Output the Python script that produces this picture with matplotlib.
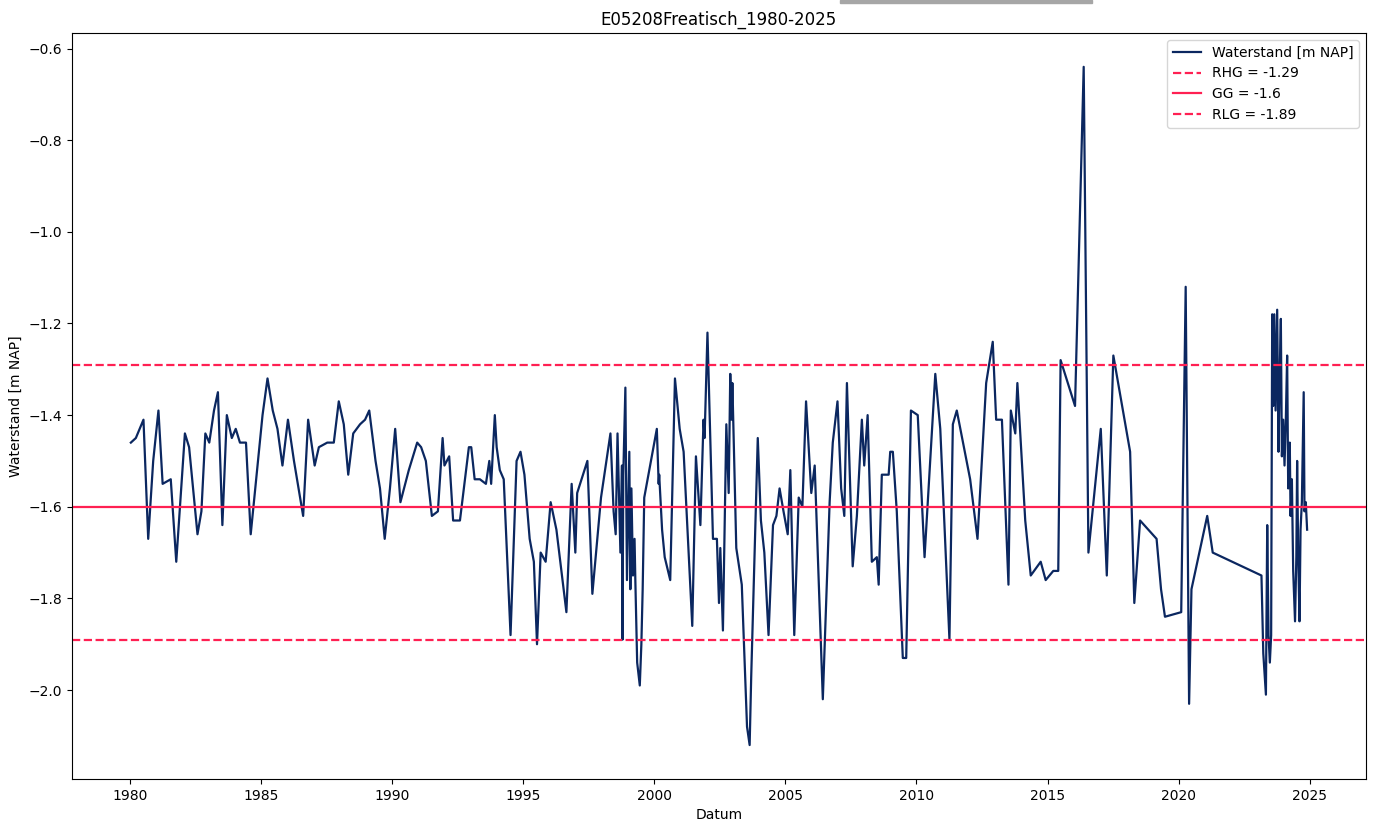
import datetime as dt
import matplotlib
matplotlib.use("Agg")
import matplotlib.pyplot as plt
from matplotlib.patches import Rectangle

# meetreeks E05208 (decimale jaren, waterstand in m NAP)
jaren = [
    1980.04, 1980.23, 1980.52, 1980.70, 1980.89, 1981.09, 1981.25, 1981.56, 1981.77, 1982.10,
    1982.26, 1982.58, 1982.73, 1982.88, 1983.03, 1983.21, 1983.36, 1983.53, 1983.70, 1983.89,
    1984.04, 1984.20, 1984.43, 1984.61, 1984.87, 1985.06, 1985.25, 1985.45, 1985.63, 1985.82,
    1986.03, 1986.26, 1986.61, 1986.80, 1987.05, 1987.21, 1987.53, 1987.78, 1987.97, 1988.16,
    1988.33, 1988.52, 1988.78, 1988.97, 1989.13, 1989.37, 1989.54, 1989.72, 1989.92, 1990.12,
    1990.32, 1990.64, 1990.96, 1991.11, 1991.29, 1991.52, 1991.75, 1991.93, 1992.00, 1992.18,
    1992.33, 1992.59, 1992.93, 1993.02, 1993.15, 1993.35, 1993.58, 1993.71, 1993.78, 1993.92,
    1993.99, 1994.11, 1994.26, 1994.52, 1994.75, 1994.90, 1995.05, 1995.25, 1995.41, 1995.53,
    1995.67, 1995.86, 1996.05, 1996.27, 1996.65, 1996.85, 1996.99, 1997.06, 1997.45, 1997.64,
    1997.97, 1998.33, 1998.45, 1998.53, 1998.60, 1998.71, 1998.77, 1998.79, 1998.82, 1998.90,
    1998.96, 1999.05, 1999.09, 1999.13, 1999.19, 1999.25, 1999.28, 1999.35, 1999.45, 1999.51,
    1999.56, 1999.62, 2000.10, 2000.17, 2000.19, 2000.30, 2000.40, 2000.61, 2000.79, 2000.97,
    2001.12, 2001.45, 2001.59, 2001.76, 2001.88, 2001.92, 2002.03, 2002.24, 2002.39, 2002.47,
    2002.52, 2002.62, 2002.75, 2002.84, 2002.90, 2002.95, 2002.98, 2003.13, 2003.34, 2003.54,
    2003.64, 2003.70, 2003.95, 2004.07, 2004.20, 2004.36, 2004.53, 2004.66, 2004.78, 2004.93,
    2005.09, 2005.19, 2005.34, 2005.51, 2005.65, 2005.79, 2005.99, 2006.12, 2006.43, 2006.69,
    2006.81, 2006.99, 2007.13, 2007.25, 2007.35, 2007.57, 2007.73, 2007.92, 2008.01, 2008.14,
    2008.30, 2008.49, 2008.56, 2008.68, 2008.94, 2009.00, 2009.10, 2009.25, 2009.48, 2009.61,
    2009.79, 2010.05, 2010.31, 2010.72, 2010.91, 2011.26, 2011.39, 2011.54, 2012.05, 2012.33,
    2012.66, 2012.91, 2013.04, 2013.26, 2013.51, 2013.60, 2013.77, 2013.85, 2014.15, 2014.36,
    2014.74, 2014.93, 2015.22, 2015.41, 2015.50, 2016.05, 2016.38, 2016.56, 2017.03, 2017.26,
    2017.51, 2018.15, 2018.31, 2018.53, 2019.16, 2019.33, 2019.48, 2020.10, 2020.27, 2020.40,
    2020.49, 2021.09, 2021.30, 2023.16, 2023.23, 2023.33, 2023.38, 2023.43, 2023.48, 2023.53,
    2023.57, 2023.61, 2023.65, 2023.70, 2023.76, 2023.81, 2023.86, 2023.90, 2023.94, 2023.99,
    2024.04, 2024.09, 2024.14, 2024.18, 2024.24, 2024.27, 2024.32, 2024.37, 2024.44, 2024.49,
    2024.52, 2024.56, 2024.61, 2024.65, 2024.70, 2024.77, 2024.80, 2024.85, 2024.90,
]
waterstand = [
    -1.46, -1.45, -1.41, -1.67, -1.50, -1.39, -1.55, -1.54, -1.72, -1.44,
    -1.47, -1.66, -1.61, -1.44, -1.46, -1.39, -1.35, -1.64, -1.40, -1.45,
    -1.43, -1.46, -1.46, -1.66, -1.51, -1.40, -1.32, -1.39, -1.43, -1.51,
    -1.41, -1.50, -1.62, -1.41, -1.51, -1.47, -1.46, -1.46, -1.37, -1.42,
    -1.53, -1.44, -1.42, -1.41, -1.39, -1.50, -1.56, -1.67, -1.56, -1.43,
    -1.59, -1.52, -1.46, -1.47, -1.50, -1.62, -1.61, -1.45, -1.51, -1.49,
    -1.63, -1.63, -1.47, -1.47, -1.54, -1.54, -1.55, -1.50, -1.55, -1.40,
    -1.47, -1.52, -1.54, -1.88, -1.50, -1.48, -1.53, -1.67, -1.72, -1.90,
    -1.70, -1.72, -1.59, -1.65, -1.83, -1.55, -1.70, -1.57, -1.50, -1.79,
    -1.58, -1.44, -1.61, -1.66, -1.44, -1.70, -1.51, -1.89, -1.53, -1.34,
    -1.76, -1.48, -1.78, -1.56, -1.75, -1.67, -1.76, -1.94, -1.99, -1.90,
    -1.78, -1.58, -1.43, -1.55, -1.53, -1.65, -1.71, -1.76, -1.32, -1.43,
    -1.48, -1.86, -1.49, -1.64, -1.41, -1.45, -1.22, -1.67, -1.67, -1.81,
    -1.69, -1.87, -1.42, -1.57, -1.31, -1.41, -1.33, -1.69, -1.77, -2.08,
    -2.12, -1.97, -1.45, -1.63, -1.70, -1.88, -1.64, -1.62, -1.56, -1.61,
    -1.66, -1.52, -1.88, -1.58, -1.60, -1.37, -1.57, -1.51, -2.02, -1.59,
    -1.46, -1.37, -1.56, -1.62, -1.33, -1.73, -1.62, -1.41, -1.51, -1.40,
    -1.72, -1.71, -1.77, -1.53, -1.53, -1.48, -1.48, -1.61, -1.93, -1.93,
    -1.39, -1.40, -1.71, -1.31, -1.43, -1.89, -1.42, -1.39, -1.54, -1.67,
    -1.33, -1.24, -1.41, -1.41, -1.77, -1.39, -1.44, -1.33, -1.63, -1.75,
    -1.72, -1.76, -1.74, -1.74, -1.28, -1.38, -0.64, -1.70, -1.43, -1.75,
    -1.27, -1.48, -1.81, -1.63, -1.67, -1.78, -1.84, -1.83, -1.12, -2.03,
    -1.78, -1.62, -1.70, -1.75, -1.92, -2.01, -1.64, -1.88, -1.94, -1.88,
    -1.18, -1.38, -1.18, -1.39, -1.17, -1.48, -1.30, -1.19, -1.49, -1.41,
    -1.51, -1.41, -1.27, -1.56, -1.46, -1.62, -1.54, -1.74, -1.85, -1.71,
    -1.50, -1.70, -1.85, -1.65, -1.59, -1.35, -1.61, -1.59, -1.65,
]

RHG = -1.29
GG = -1.6
RLG = -1.89


def naar_datum(j):
    jaar = int(j)
    start = dt.datetime(jaar, 1, 1)
    lengte = (dt.datetime(jaar + 1, 1, 1) - start).total_seconds()
    return start + dt.timedelta(seconds=(j - jaar) * lengte)


datums = [naar_datum(j) for j in jaren]

fig = plt.figure(figsize=(13.75, 8.23), dpi=100)
ax = fig.add_axes([0.0524, 0.0535, 0.941, 0.9065])

ax.plot(datums, waterstand, color='#0b2760', linewidth=1.6, label='Waterstand [m NAP]')
ax.axhline(RHG, color='#ff2052', linestyle='--', linewidth=1.6, label=f'RHG = {RHG}')
ax.axhline(GG, color='#ff2052', linestyle='-', linewidth=1.6, label=f'GG = {GG}')
ax.axhline(RLG, color='#ff2052', linestyle='--', linewidth=1.6, label=f'RLG = {RLG}')

ax.set_title('E05208Freatisch_1980-2025')
ax.set_xlabel('Datum')
ax.set_ylabel('Waterstand [m NAP]')
ax.legend(loc='upper right')

# grijze balk bovenaan (schermafdruk-artefact)
fig.patches.append(Rectangle((840 / 1375, 1 - 3 / 823), 252 / 1375, 3 / 823,
                             transform=fig.transFigure, color='#a6a6a6', zorder=0))

fig.savefig('out.png', dpi=100)
